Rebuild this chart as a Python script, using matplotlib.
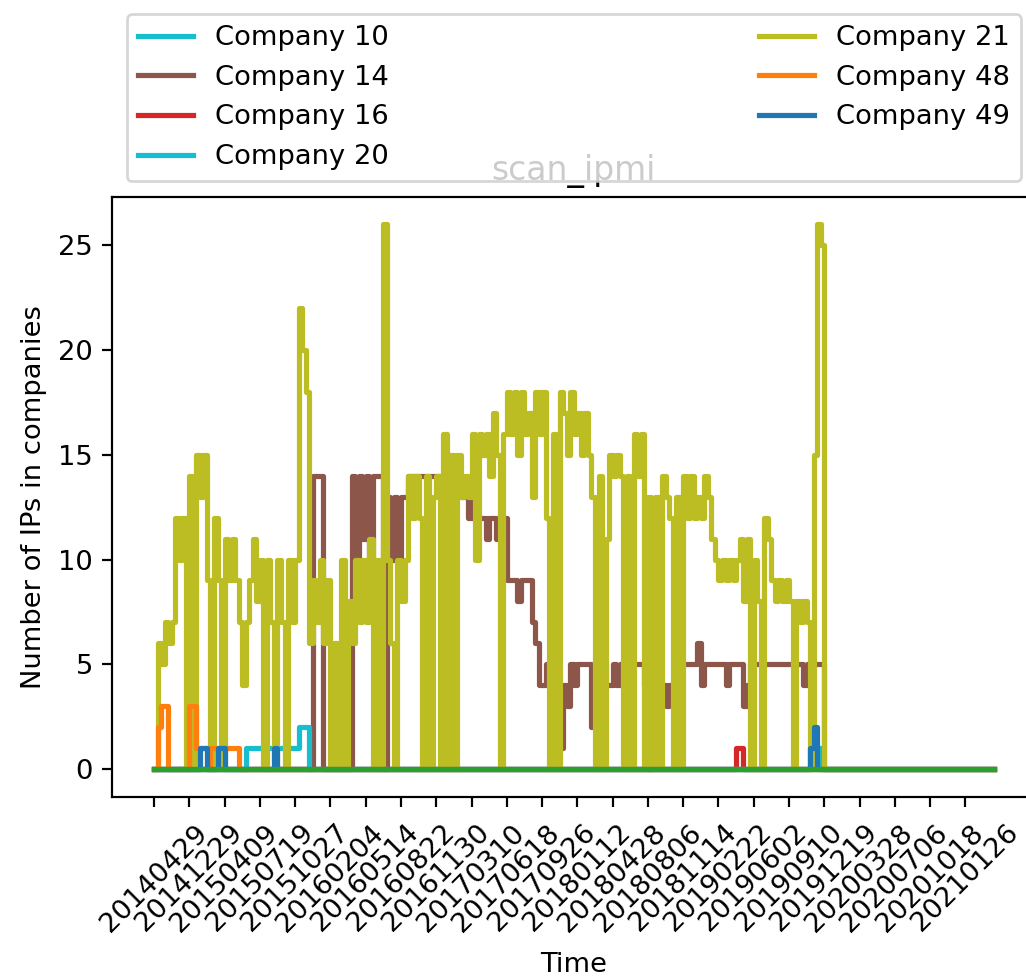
import numpy as np
import matplotlib
matplotlib.use("Agg")
import matplotlib.pyplot as plt

# one stored point every 10 samples, 2380 samples in total
step = 10
n_points = 239

tick_dates = ["20140429", "20141229", "20150409", "20150719", "20151027",
              "20160204", "20160514", "20160822", "20161130", "20170310",
              "20170618", "20170926", "20180112", "20180428", "20180806",
              "20181114", "20190222", "20190602", "20190910", "20191219",
              "20200328", "20200706", "20201018", "20210126"]

# Company 21, from the first stored point on
c21_vals = [0, 6, 5, 7, 6, 7, 12, 10, 12, 0,
            14, 0, 15, 13, 15, 9, 0, 12, 9, 0,
            11, 9, 11, 9, 7, 4, 7, 9, 11, 8,
            10, 0, 10, 7, 0, 10, 7, 0, 10, 7,
            10, 22, 20, 18, 6, 9, 7, 10, 6, 9,
            0, 6, 0, 10, 0, 8, 6, 10, 7, 10,
            7, 11, 0, 10, 0, 26, 10, 6, 0, 10,
            8, 10, 14, 12, 14, 12, 0, 14, 0, 13,
            14, 0, 16, 0, 15, 0, 15, 13, 14, 13,
            16, 10, 16, 15, 16, 14, 17, 15, 0, 16,
            18, 16, 18, 15, 18, 16, 17, 13, 18, 16,
            18, 12, 0, 16, 0, 18, 17, 15, 18, 16,
            17, 15, 17, 15, 13, 0, 14, 0, 11, 15,
            14, 15, 14, 0, 14, 0, 16, 14, 16, 0,
            13, 0, 13, 0, 14, 13, 12, 0, 13, 0,
            14, 12, 14, 12, 13, 12, 14, 13, 11, 10,
            9, 10, 9, 10, 9, 10, 11, 8, 11, 0,
            10, 8, 0, 12, 11, 9, 8, 9, 8, 9,
            8, 0, 8, 7, 8, 7, 0, 15, 26, 25]

# Company 14, starting at stored point 45
c14_vals = [14, 14, 14, 0, 0,
            0, 0, 0, 0, 0, 0, 14, 10, 14, 11,
            14, 10, 14, 14, 14, 0, 13, 10, 13, 10,
            13, 13, 14, 14, 14, 14, 14, 14, 14, 14,
            14, 14, 14, 14, 14, 14, 14, 13, 13, 12,
            13, 12, 12, 12, 11, 12, 12, 11, 12, 12,
            9, 9, 9, 8, 9, 9, 9, 7, 6, 4,
            4, 5, 5, 5, 4, 1, 4, 3, 5, 4,
            5, 5, 5, 5, 2, 5, 5, 5, 4, 4,
            5, 4, 5, 5, 5, 5, 5, 5, 5, 4,
            0, 3, 4, 4, 4, 3, 4, 4, 5, 5,
            5, 5, 5, 5, 6, 4, 5, 5, 5, 5,
            5, 5, 4, 5, 5, 5, 5, 3, 4, 5,
            5, 5, 5, 5, 5, 5, 5, 5, 5, 5,
            5, 5, 5, 5, 4, 5, 5, 5, 5, 5]

c10_runs = [(186, [1, 1, 1])]
c14_runs = [(45, c14_vals)]
c16_runs = [(165, [1, 1])]
c20_runs = [(26, [1, 1, 1, 1, 1, 1, 1, 1, 1, 1, 1, 1, 1, 1, 1, 2, 2, 2])]
c21_runs = [(0, c21_vals)]
c48_runs = [(1, [2, 3, 3, 0, 0, 0, 0, 0, 0, 3, 3, 1, 1, 1, 0, 1, 1, 1, 1, 1, 1, 1, 1])]
c49_runs = [(13, [1, 1, 0, 0, 0, 1, 1]), (34, [1]), (186, [1, 2])]


def build(runs):
    y = np.zeros(n_points)
    for start, vals in runs:
        y[start:start + len(vals)] = vals
    return y


companies = [
    ("Company 10", c10_runs, "tab:cyan"),
    ("Company 14", c14_runs, "tab:brown"),
    ("Company 16", c16_runs, "tab:red"),
    ("Company 20", c20_runs, "tab:cyan"),
    ("Company 21", c21_runs, "tab:olive"),
    ("Company 48", c48_runs, "tab:orange"),
    ("Company 49", c49_runs, "tab:blue"),
]

x = np.arange(n_points) * step

dpi = 197
fig = plt.figure(figsize=(1026 / dpi, 979 / dpi), dpi=dpi)
ax = fig.add_axes([0.1092, 0.1864, 0.9002, 0.6127])

for name, runs, color in companies:
    ax.plot(x, build(runs), color=color, label=name, lw=1.9,
            drawstyle="steps-post")
# all remaining companies stay at zero
ax.plot(x, np.zeros(n_points), color="tab:green", lw=1.9)

ax.set_xticks(np.arange(len(tick_dates)) * 100)
ax.set_xticklabels(tick_dates, rotation=45)
ax.tick_params(axis="x", pad=5)
ax.set_xlabel("Time", labelpad=5.5)
ax.set_ylabel("Number of IPs in companies")
ax.set_title("scan_ipmi")
ax.legend(loc="lower left", bbox_to_anchor=(0.0162, 1.026, 0.968, 0.2),
          mode="expand", ncol=2, borderaxespad=0)

fig.savefig("out.png", dpi=dpi)
